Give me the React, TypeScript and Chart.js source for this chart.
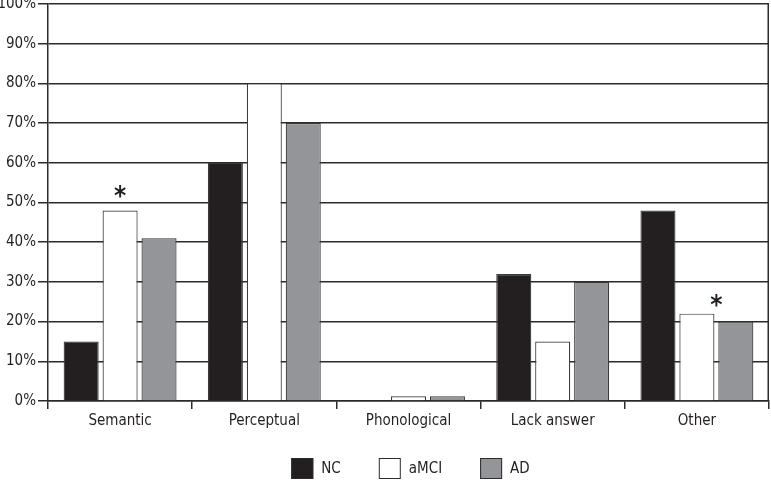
import React, { useEffect, useRef } from "react";
import { Chart, registerables } from "chart.js";

Chart.register(...registerables);

const categories = ["Semantic", "Perceptual", "Phonological", "Lack answer", "Other"];
const seriesNames = ["NC", "aMCI", "AD"];
const ncValues = [15, 60, 0, 32, 48];
const amciValues = [48, 80, 1.2, 15, 22];
const adValues = [41, 70, 1.2, 30, 20];
const yTicks = [0, 10, 20, 30, 40, 50, 60, 70, 80, 90, 100];
const starCategories = ["Semantic", "Other"];
const starValues = [52, 24.5];

const FONT = "'Liberation Sans Narrow', 'DejaVu Sans Condensed', 'Arial Narrow', sans-serif";
const INK = "#231f20";
const LINE = "#2b2b2b";
const SERIES_COLORS = [INK, "#ffffff", "#939598"];

const extrasPlugin = {
  id: "extras",
  afterDatasetsDraw(chart: any) {
    const { ctx, chartArea, scales } = chart;
    ctx.save();
    // right border
    ctx.strokeStyle = LINE;
    ctx.lineWidth = 1.5;
    ctx.beginPath();
    ctx.moveTo(chartArea.right - 0.75, chartArea.top);
    ctx.lineTo(chartArea.right - 0.75, chartArea.bottom);
    ctx.stroke();
    // asterisks
    const m1 = chart.getDatasetMeta(1);
    const m2 = chart.getDatasetMeta(2);
    ctx.fillStyle = INK;
    ctx.font = `bold 26px ${FONT}`;
    ctx.textAlign = "center";
    ctx.textBaseline = "middle";
    starCategories.forEach((cat, k) => {
      const i = categories.indexOf(cat);
      const frac = k === 0 ? 0 : 0.5;
      const x1 = m1.data[i].x;
      const x2 = m2.data[i].x;
      const x = x1 + frac * (x2 - x1);
      const y = scales.y.getPixelForValue(starValues[k]);
      ctx.fillText("*", x, y + 4);
    });
    // legend
    const boxW = 22;
    const boxH = 21;
    const gapText = 8;
    const gapItem = 38;
    ctx.font = `15px ${FONT}`;
    ctx.textAlign = "left";
    const widths = seriesNames.map((n) => boxW + gapText + ctx.measureText(n).width);
    const total = widths.reduce((a, b) => a + b, 0) + gapItem * (widths.length - 1);
    let x = (chartArea.left + chartArea.right) / 2 - total / 2 + 2;
    const top = chart.height - 23;
    seriesNames.forEach((n, i) => {
      ctx.fillStyle = SERIES_COLORS[i];
      ctx.fillRect(x, top, boxW, boxH);
      ctx.strokeStyle = LINE;
      ctx.lineWidth = 1;
      ctx.strokeRect(x + 0.5, top + 0.5, boxW - 1, boxH - 1);
      ctx.fillStyle = INK;
      ctx.fillText(n, x + boxW + gapText, top + boxH / 2 + 1);
      x += widths[i] + gapItem;
    });
    ctx.restore();
  },
};

export default function App() {
  const ref = useRef<HTMLCanvasElement | null>(null);
  useEffect(() => {
    document.body.style.margin = "0";
    const values = [ncValues, amciValues, adValues];
    const chart = new Chart(ref.current as HTMLCanvasElement, {
      type: "bar",
      data: {
        labels: categories,
        datasets: seriesNames.map((name, i) => ({
          label: name,
          data: values[i],
          backgroundColor: SERIES_COLORS[i],
          borderColor: "#3a3a3a",
          borderWidth: 1.2,
          categoryPercentage: 0.81,
          barPercentage: 0.9,
        })),
      },
      options: {
        responsive: false,
        animation: false,
        devicePixelRatio: 1,
        layout: { padding: { left: 0, right: 2, top: 0, bottom: 48 } },
        plugins: {
          tooltip: { enabled: false },
          legend: { display: false },
        },
        scales: {
          x: {
            offset: true,
            grid: {
              offset: true,
              drawOnChartArea: false,
              drawTicks: true,
              tickLength: 8,
              color: LINE,
              lineWidth: 1.5,
            },
            border: { display: true, color: LINE, width: 1.5 },
            ticks: { color: INK, font: { family: FONT, size: 15 }, padding: 3 },
          },
          y: {
            min: 0,
            max: 100,
            afterFit(axis: any) {
              axis.width = 48;
            },
            afterBuildTicks(axis: any) {
              axis.ticks = yTicks.map((v) => ({ value: v }));
            },
            grid: {
              color: LINE,
              lineWidth: 1.5,
              drawTicks: true,
              tickLength: 10,
            },
            border: { display: true, color: LINE, width: 1.5 },
            ticks: {
              color: INK,
              font: { family: FONT, size: 15 },
              padding: 2,
              callback: (v: any) => `${v}%`,
            },
          },
        },
      },
      plugins: [extrasPlugin],
    });
    return () => chart.destroy();
  }, []);
  return (
    <div style={{ position: "absolute", left: 0, top: -7, width: 771, height: 488 }}>
      <canvas ref={ref} width={771} height={488} />
    </div>
  );
}
